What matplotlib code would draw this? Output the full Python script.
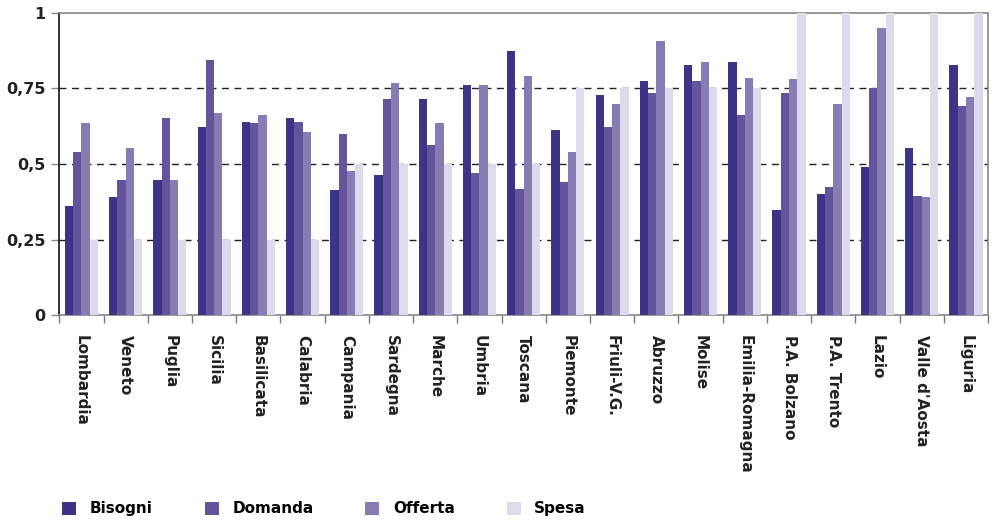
import numpy as np
import matplotlib
matplotlib.use("Agg")
import matplotlib.pyplot as plt

regions = ["Lombardia", "Veneto", "Puglia", "Sicilia", "Basilicata", "Calabria",
           "Campania", "Sardegna", "Marche", "Umbria", "Toscana", "Piemonte",
           "Friuli-V.G.", "Abruzzo", "Molise", "Emilia-Romagna", "P.A. Bolzano",
           "P.A. Trento", "Lazio", "Valle d'Aosta", "Liguria"]

bisogni = [0.36, 0.39, 0.447, 0.622, 0.639, 0.652, 0.414, 0.464, 0.715, 0.761, 0.874,
           0.612, 0.728, 0.774, 0.827, 0.837, 0.348, 0.401, 0.49, 0.553, 0.827]
domanda = [0.54, 0.447, 0.652, 0.844, 0.636, 0.639, 0.599, 0.715, 0.563, 0.47, 0.417,
           0.441, 0.622, 0.735, 0.774, 0.662, 0.735, 0.424, 0.751, 0.394, 0.692]
offerta = [0.636, 0.553, 0.447, 0.669, 0.662, 0.606, 0.477, 0.768, 0.636, 0.761, 0.791,
           0.54, 0.698, 0.907, 0.837, 0.784, 0.781, 0.698, 0.95, 0.391, 0.722]
spesa = [0.25, 0.25, 0.25, 0.25, 0.25, 0.25, 0.5, 0.5, 0.5, 0.5, 0.5,
         0.75, 0.75, 0.75, 0.75, 0.75, 1.0, 1.0, 1.0, 1.0, 1.0]

series = ["Bisogni", "Domanda", "Offerta", "Spesa"]
colors = ["#3d3387", "#63549c", "#877bb3", "#dddbeb"]

ytick_vals = [0, 0.25, 0.5, 0.75, 1]
ytick_labels = ["0", "0,25", "0,5", "0,75", "1"]

plt.rcParams['font.family'] = ['DejaVu Sans']
plt.rcParams['font.weight'] = 'bold'

fig = plt.figure(figsize=(9.94, 5.22), dpi=100)
ax = fig.add_axes([0.0597, 0.396, 0.9343, 0.58])

x = np.arange(len(regions))
w = 0.1875
for i, (name, vals) in enumerate(zip(series, [bisogni, domanda, offerta, spesa])):
    ax.bar(x - 1.5 * w + i * w, vals, width=w, color=colors[i], label=name, zorder=3)

ax.set_xlim(-0.5, len(regions) - 0.5)
ax.set_ylim(0, 1)

for yv in [0.25, 0.5, 0.75]:
    ax.axhline(yv, color="#222222", lw=1.0, ls=(0, (5, 4)), zorder=1)

ax.set_yticks(ytick_vals)
ax.set_yticklabels(ytick_labels, fontsize=11.5, fontweight='bold', color="#222222")
ax.tick_params(axis='y', length=6, width=1, color="#888888", pad=4)

# group boundaries on the x axis, labels centred between them
ax.set_xticks(np.arange(len(regions) + 1) - 0.5)
ax.set_xticklabels([])
ax.set_xticks(x, minor=True)
ax.set_xticklabels(regions, minor=True, rotation=-90, fontsize=11,
                   fontweight='bold', color="#222222", va='top', ha='center')
ax.tick_params(axis='x', which='major', length=6, width=1, color="#777777")
ax.tick_params(axis='x', which='minor', length=0, pad=14)

ax.spines['left'].set_color("#111111")
ax.spines['left'].set_linewidth(1.2)
for s in ['bottom', 'top', 'right']:
    ax.spines[s].set_color("#888888")
    ax.spines[s].set_linewidth(1.2)

fig.legend(loc='center left', bbox_to_anchor=(0.049, 0.025), ncol=4, frameon=False,
           handlelength=0.9, handleheight=0.9, handletextpad=0.9,
           columnspacing=3.4, prop={'weight': 'bold', 'size': 11})

fig.savefig("out.png", dpi=100)
